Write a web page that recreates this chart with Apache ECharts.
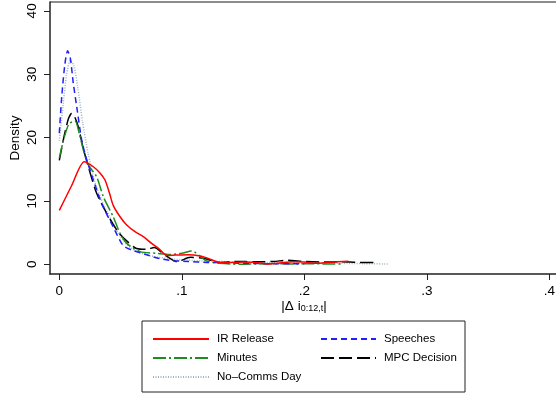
<!DOCTYPE html>
<html>
<head>
<meta charset="utf-8">
<script src="https://cdn.jsdelivr.net/npm/echarts@6/dist/echarts.min.js"></script>
<style>
  html, body { margin: 0; padding: 0; background: #fff; }
  #chart { width: 556px; height: 394px; }
</style>
</head>
<body>
<div id="chart"></div>
<script>
// Kernel density estimates of |Δ i(0:12,t)| by communication type
const seriesNames = ['IR Release', 'Speeches', 'Minutes', 'MPC Decision', 'No\u2013Comms Day'];

const irX = [0, 0.01, 0.0204, 0.0278, 0.0332, 0.0373, 0.041, 0.044, 0.0496, 0.055, 0.0618, 0.0686, 0.0754, 0.081, 0.088, 0.095, 0.105, 0.115, 0.122, 0.131, 0.14, 0.15, 0.16, 0.17, 0.18, 0.19, 0.2, 0.21, 0.22, 0.236];
const irY = [8.5, 12.4, 16.2, 15.4, 14.4, 13.3, 11.2, 9.3, 7.5, 6.2, 5.15, 4.36, 3.3, 2.5, 1.4, 1.45, 1.5, 1.3, 0.9, 0.3, 0.3, 0.35, 0.3, 0.05, 0.2, 0.4, 0.35, 0.15, 0.3, 0.5];

const speechX = [0, 0.002, 0.0045, 0.0068, 0.009, 0.0114, 0.0142, 0.0183, 0.0224, 0.0278, 0.0346, 0.044, 0.052, 0.059, 0.0713, 0.082, 0.093, 0.105, 0.12, 0.135, 0.15, 0.17, 0.19, 0.2];
const speechY = [20.7, 26.5, 31.5, 33.7, 32.5, 28.6, 24.9, 19.6, 16.5, 13.3, 9.6, 5.9, 3.0, 2.26, 1.5, 0.9, 0.57, 0.45, 0.3, 0.25, 0.15, 0.1, 0.1, 0.05];

const minutesX = [0, 0.004, 0.008, 0.0128, 0.0165, 0.02, 0.0237, 0.0305, 0.0359, 0.044, 0.0496, 0.055, 0.066, 0.0795, 0.09, 0.1, 0.108, 0.12, 0.131, 0.1475, 0.16, 0.175, 0.19, 0.205, 0.22, 0.23];
const minutesY = [16.8, 20.0, 22.2, 22.6, 20.5, 17.8, 15.7, 13.8, 10.7, 7.5, 4.9, 3.3, 2.0, 1.74, 1.55, 1.74, 2.1, 0.55, 0.15, 0.0, 0.05, 0.1, 0.05, 0.1, 0.05, 0.05];

const mpcX = [0, 0.004, 0.0075, 0.0101, 0.0125, 0.0155, 0.0193, 0.0237, 0.0305, 0.0387, 0.048, 0.055, 0.063, 0.0713, 0.0775, 0.086, 0.096, 0.107, 0.1175, 0.131, 0.145, 0.16, 0.175, 0.186, 0.2, 0.215, 0.23, 0.245, 0.26];
const mpcY = [16.4, 20.3, 23.0, 23.8, 23.3, 21.7, 18.5, 15.4, 11.2, 8.05, 5.1, 3.7, 2.5, 2.37, 2.65, 1.5, 0.4, 1.1, 0.95, 0.3, 0.45, 0.4, 0.45, 0.65, 0.45, 0.35, 0.4, 0.3, 0.3];

const noCommsX = [0, 0.003, 0.006, 0.009, 0.012, 0.015, 0.019, 0.0235, 0.029, 0.036, 0.043, 0.05, 0.058, 0.066, 0.078, 0.09, 0.1, 0.115, 0.13, 0.15, 0.17, 0.19, 0.21, 0.23, 0.25, 0.268];
const noCommsY = [19.5, 25, 30, 32.2, 31.3, 28, 22.5, 17.5, 13, 9.5, 6.8, 4.3, 2.6, 1.8, 1.2, 0.9, 0.7, 0.55, 0.45, 0.35, 0.3, 0.25, 0.2, 0.15, 0.1, 0.05];

const xTicks = [0, 0.1, 0.2, 0.3, 0.4];
const xTickLabels = ['0', '.1', '.2', '.3', '.4'];
const yTicks = [0, 10, 20, 30, 40];

const pairs = (xs, ys) => xs.map((x, i) => [x, ys[i]]);

const styles = [
  { color: '#ff0000', type: 'solid' },
  { color: '#1f1fff', type: [6, 4] },
  { color: '#1e8c1e', type: [13, 3, 2, 3] },
  { color: '#000000', type: [13, 5] },
  { color: '#9fb3c2', type: [1, 1.5] }
];
const dataSets = [
  pairs(irX, irY), pairs(speechX, speechY), pairs(minutesX, minutesY),
  pairs(mpcX, mpcY), pairs(noCommsX, noCommsY)
];

const font = 'Liberation Sans, Arial, sans-serif';

const chart = echarts.init(document.getElementById('chart'), null, { renderer: 'canvas' });

const legendCommon = {
  orient: 'vertical', top: 328,
  itemHeight: 14, itemGap: 7,
  itemStyle: { opacity: 0 },
  lineStyle: { opacity: 1 },
  textStyle: { fontFamily: font, fontSize: 11.5, color: '#000', padding: [0, 0, 0, 3] }
};

chart.setOption({
  animation: false,
  backgroundColor: '#fff',
  grid: { left: 50, right: 0, top: 2, bottom: 120, containLabel: false, outerBoundsMode: 'none' },
  xAxis: {
    type: 'value',
    min: -0.0076,
    max: 0.4055,
    axisLine: { show: true, onZero: false, lineStyle: { color: '#222', width: 1.5 } },
    axisTick: { show: true, customValues: xTicks, length: 6, lineStyle: { color: '#222', width: 1 } },
    axisLabel: {
      customValues: xTicks,
      margin: 10,
      fontFamily: font, fontSize: 13.5, color: '#000',
      formatter: v => xTickLabels[xTicks.indexOf(v)] ?? ''
    },
    splitLine: { show: false }
  },
  yAxis: {
    type: 'value',
    min: -1.53,
    max: 41.4,
    axisLine: { show: true, onZero: false, lineStyle: { color: '#222', width: 1.5 } },
    axisTick: { show: true, customValues: yTicks, length: 6, lineStyle: { color: '#222', width: 1 } },
    axisLabel: {
      customValues: yTicks,
      rotate: 90,
      margin: 11,
      fontFamily: font, fontSize: 13.5, color: '#000'
    },
    splitLine: { show: false }
  },
  legend: [
    Object.assign({}, legendCommon, {
      data: [seriesNames[0], seriesNames[2], seriesNames[4]],
      left: 147, itemWidth: 56
    }),
    Object.assign({}, legendCommon, {
      data: [seriesNames[1], seriesNames[3]],
      left: 315, itemWidth: 55
    })
  ],
  graphic: [
    { type: 'line', shape: { x1: 50, y1: 2, x2: 556, y2: 2 }, style: { stroke: '#666', lineWidth: 1.5 }, silent: true },
    { type: 'rect', shape: { x: 142, y: 321, width: 323, height: 71 }, style: { fill: 'none', stroke: '#222', lineWidth: 1 }, silent: true },
    {
      type: 'text', x: 15, y: 138, rotation: Math.PI / 2, silent: true,
      style: {
        text: 'Density', fontFamily: font, fontSize: 13.5, fill: '#000',
        align: 'center', verticalAlign: 'middle'
      }
    },
    {
      type: 'text', x: 304, y: 306, silent: true,
      style: {
        text: '|\u0394 i{sub|0:12,t}|',
        fontFamily: font, fontSize: 13.5, fill: '#000',
        align: 'center', verticalAlign: 'middle',
        rich: { sub: { fontFamily: font, fontSize: 9, fill: '#000', padding: [5, 0, 0, 0] } }
      }
    }
  ],
  series: dataSets.map((d, i) => ({
    name: seriesNames[i],
    type: 'line',
    data: d,
    showSymbol: false,
    symbol: 'none',
    smooth: 0.25,
    z: 10 - i,
    lineStyle: { color: styles[i].color, type: styles[i].type, width: 1.5 },
    itemStyle: { color: styles[i].color }
  }))
});
</script>
</body>
</html>
